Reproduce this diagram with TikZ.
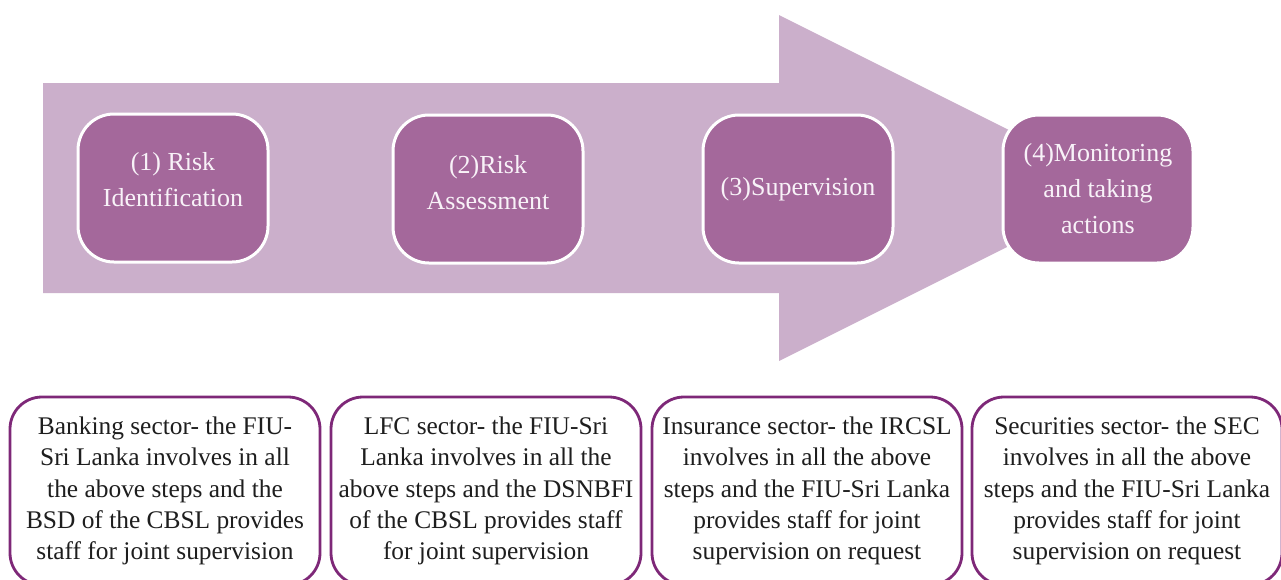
\documentclass[tikz,border=0pt]{standalone}
\usepackage{fontspec}
\setmainfont{Liberation Serif}
\definecolor{arrowfill}{RGB}{203,175,203}
\definecolor{stepfill}{RGB}{164,104,155}
\definecolor{sectorline}{RGB}{126,40,120}
\definecolor{steptext}{RGB}{248,242,248}
\definecolor{sectortext}{RGB}{30,30,30}
\tikzset{
  stepbox/.style={draw=white,line width=1.5pt,fill=stepfill,rounded corners=18pt,
    minimum width=95pt,minimum height=74pt,align=center,text=steptext,
    font=\fontsize{13}{18}\selectfont},
  steptitle/.style={align=center,text=steptext,font=\fontsize{13}{18}\selectfont},
  sectorbox/.style={draw=sectorline,line width=1.4pt,fill=white,rounded corners=16pt,
    minimum width=155pt,minimum height=94pt,align=center,text=sectortext,
    font=\fontsize{12.7}{15.6}\selectfont}
}

\begin{document}
\begin{tikzpicture}[x=0.5pt,y=-0.5pt]
  \useasboundingbox (0,0) rectangle (1281,579);
  \clip (0,0) rectangle (1281,579);
  % big process arrow
  \fill[arrowfill] (43,83) -- (779,83) -- (779,15) -- (1125,188)
    -- (779,361) -- (779,293) -- (43,293) -- cycle;
  % steps
  \node[stepbox] (ident) at (173,188) {};
  \node[steptitle] (ident-t) at (ident) [yshift=4pt] {(1) Risk\\Identification};
  \node[stepbox] (assess) at (488,189) {};
  \node[steptitle] (assess-t) at (assess) [yshift=3pt] {(2)Risk\\Assessment};
  \node[stepbox] (superv) at (798,189) {(3)Supervision};
  \node[stepbox] (monitor) at (1098,189) {(4)Monitoring\\and taking\\actions};
  % sectors
  \node[sectorbox] (banking) at (165,491) {Banking sector- the FIU-\\Sri Lanka involves in all\\the above steps and the\\BSD of the CBSL provides\\staff for joint supervision};
  \node[sectorbox] (lfc) at (486,491) {LFC sector- the FIU-Sri\\Lanka involves in all the\\above steps and the DSNBFI\\of the CBSL provides staff\\for joint supervision};
  \node[sectorbox] (insurance) at (807,491) {Insurance sector- the IRCSL\\involves in all the above\\steps and the FIU-Sri Lanka\\provides staff for joint\\supervision on request};
  \node[sectorbox] (securities) at (1127,491) {Securities sector- the SEC\\involves in all the above\\steps and the FIU-Sri Lanka\\provides staff for joint\\supervision on request};
\end{tikzpicture}
\end{document}
